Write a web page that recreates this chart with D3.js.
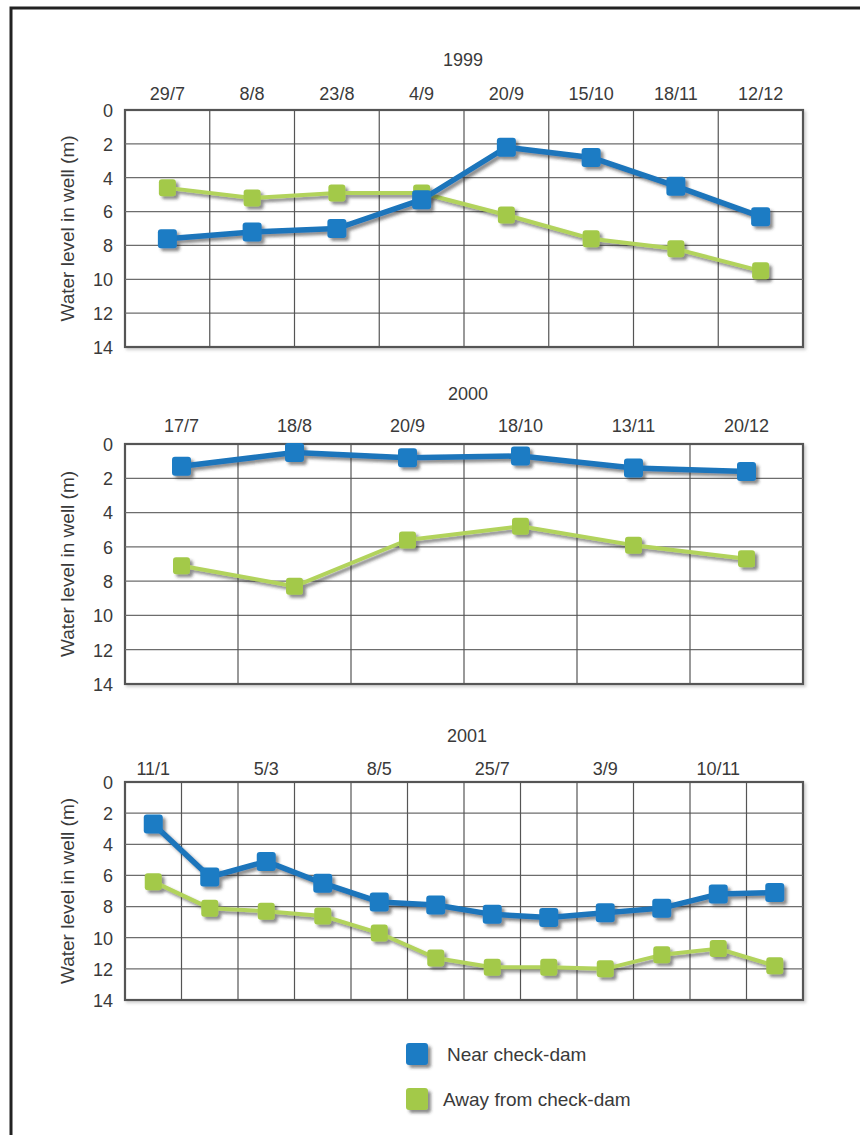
<!DOCTYPE html>
<html><head><meta charset="utf-8">
<script src="https://cdn.jsdelivr.net/npm/d3@7/dist/d3.min.js"></script>
<style>
html,body{margin:0;padding:0;background:#fff;}
svg{display:block;}
text{font-family:"Liberation Sans",Arial,sans-serif;fill:#3a3a3a;}
</style></head>
<body>
<svg id="chart" width="860" height="1135"></svg>
<script>
// ---- data ----
const years = ["1999", "2000", "2001"];
const dates1999 = ["29/7", "8/8", "23/8", "4/9", "20/9", "15/10", "18/11", "12/12"];
const near1999 = [7.6, 7.2, 7.0, 5.3, 2.2, 2.8, 4.5, 6.3];
const away1999 = [4.6, 5.2, 4.9, 4.9, 6.2, 7.6, 8.2, 9.5];
const dates2000 = ["17/7", "18/8", "20/9", "18/10", "13/11", "20/12"];
const near2000 = [1.3, 0.5, 0.8, 0.7, 1.4, 1.6];
const away2000 = [7.1, 8.3, 5.6, 4.8, 5.9, 6.7];
const dates2001 = ["11/1", "", "5/3", "", "8/5", "", "25/7", "", "3/9", "", "10/11", ""];
const near2001 = [2.7, 6.1, 5.1, 6.5, 7.7, 7.9, 8.5, 8.7, 8.4, 8.1, 7.2, 7.1];
const away2001 = [6.4, 8.1, 8.3, 8.6, 9.7, 11.3, 11.9, 11.9, 12.0, 11.1, 10.7, 11.8];
const yTicks = [0, 2, 4, 6, 8, 10, 12, 14];
const seriesNames = ["Near check-dam", "Away from check-dam"];
const yTitle = "Water level in well (m)";

const panels = [
  {year: years[0], dates: dates1999, near: near1999, away: away1999, top: 110, bottom: 347, yearY: 66, labY: 100, yearX: 463},
  {year: years[1], dates: dates2000, near: near2000, away: away2000, top: 444, bottom: 684, yearY: 400, labY: 432, yearX: 468},
  {year: years[2], dates: dates2001, near: near2001, away: away2001, top: 782, bottom: 1000, yearY: 742, labY: 775, yearX: 467}
];
const left = 125, right = 803;
const BLUE = "#1c7cc4", BLUE_LINE = "#1a74bb";
const GREEN = "#a3c94a", GREEN_LINE = "#b2d35c";

const svg = d3.select("#chart");
const defs = svg.append("defs");
const f = defs.append("filter").attr("id","sh").attr("x","-30%").attr("y","-30%").attr("width","170%").attr("height","170%");
f.append("feDropShadow").attr("dx",3).attr("dy",3).attr("stdDeviation",1.6).attr("flood-color","#333").attr("flood-opacity",0.55);
const f2 = defs.append("filter").attr("id","sh2").attr("x","-5%").attr("y","-5%").attr("width","110%").attr("height","110%");
f2.append("feDropShadow").attr("dx",2).attr("dy",2).attr("stdDeviation",1.5).attr("flood-color","#888").attr("flood-opacity",0.4);

// outer frame (top and left)
svg.append("path").attr("d","M11,1135 L11,8 L860,8").attr("fill","none").attr("stroke","#222").attr("stroke-width",3);

panels.forEach(p => {
  const idx = d3.range(p.dates.length);
  const x = d3.scaleBand().domain(idx).range([left, right]);
  const y = d3.scaleLinear().domain([0, 14]).range([p.top, p.bottom]);
  const g = svg.append("g");

  // plot background + frame
  g.append("rect").attr("x", left).attr("y", p.top).attr("width", right-left).attr("height", p.bottom-p.top)
    .attr("fill","#fff").attr("stroke","#555").attr("stroke-width",2.2).attr("filter","url(#sh2)");

  // horizontal grid
  g.selectAll(".hg").data(yTicks.filter(t => t > 0 && t < 14)).join("line")
    .attr("x1", left).attr("x2", right).attr("y1", d => y(d)).attr("y2", d => y(d))
    .attr("stroke","#6d6d6d").attr("stroke-width",1.2);
  // vertical grid
  g.selectAll(".vg").data(idx.slice(1)).join("line")
    .attr("x1", d => x(d)).attr("x2", d => x(d)).attr("y1", p.top).attr("y2", p.bottom)
    .attr("stroke","#555").attr("stroke-width",1.2);

  // y axis labels
  const ya = d3.axisLeft(y).tickValues(yTicks).tickSize(0).tickPadding(0);
  const yg = g.append("g").attr("transform", `translate(113,0)`).call(ya);
  yg.select(".domain").remove();
  yg.selectAll("text").attr("font-size",18).attr("fill","#3a3a3a").attr("font-family","Liberation Sans, Arial, sans-serif").attr("dy","0.35em");

  // x axis labels (top)
  const xa = d3.axisTop(x).tickFormat(i => p.dates[i]).tickSize(0).tickPadding(0);
  const xg = g.append("g").attr("transform", `translate(0,${p.labY})`).call(xa);
  xg.select(".domain").remove();
  xg.selectAll("text").attr("font-size",18).attr("fill","#3a3a3a").attr("font-family","Liberation Sans, Arial, sans-serif").attr("dy",0);

  // year title
  g.append("text").attr("x", p.yearX).attr("y", p.yearY).attr("text-anchor","middle").attr("font-size",18).text(p.year);

  // y axis title
  g.append("text").attr("transform", `translate(74,${(p.top+p.bottom)/2}) rotate(-90)`)
    .attr("text-anchor","middle").attr("font-size",19).text(yTitle);

  const cx = i => x(i) + x.bandwidth()/2;
  const line = d3.line().x((d,i) => cx(i)).y(d => y(d));

  [[p.away, GREEN, GREEN_LINE, 4, 17], [p.near, BLUE, BLUE_LINE, 5.5, 19]].forEach(([vals, col, lcol, w, s]) => {
    const sg = g.append("g").attr("filter","url(#sh)");
    sg.append("path").datum(vals).attr("d", line).attr("fill","none").attr("stroke", lcol).attr("stroke-width", w).attr("stroke-linejoin","round");
    sg.selectAll("rect.m").data(vals).join("rect")
      .attr("x", (d,i) => cx(i) - s/2).attr("y", d => y(d) - s/2)
      .attr("width", s).attr("height", s).attr("rx", 3).attr("fill", col);
  });
});

// legend
const legend = svg.append("g");
const legItems = [[seriesNames[0], BLUE, 1054], [seriesNames[1], GREEN, 1099]];
legItems.forEach(([name, col, yy]) => {
  legend.append("rect").attr("x", 406).attr("y", yy - 11).attr("width", 22).attr("height", 22).attr("rx", 3)
    .attr("fill", col).attr("filter","url(#sh)");
  legend.append("text").attr("x", name === seriesNames[0] ? 447 : 443).attr("y", yy).attr("dy","0.35em")
    .attr("font-size", 19).text(name);
});
</script>
</body></html>
